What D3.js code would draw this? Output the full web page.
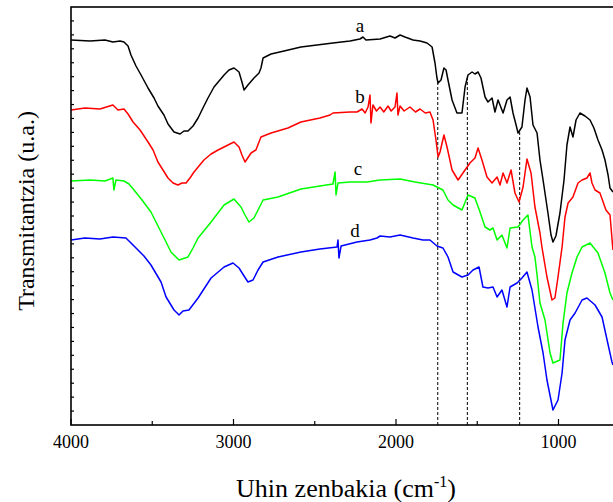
<!DOCTYPE html>
<html>
<head>
<meta charset="utf-8">
<script src="https://cdn.jsdelivr.net/npm/d3@7"></script>
<style>
  html, body { margin: 0; padding: 0; background: #fff; }
  svg { display: block; }
  text { font-family: "Liberation Serif", "Times New Roman", serif; fill: #000; }
</style>
</head>
<body>
<div id="chart"></div>
<script>
// FTIR spectra: [wavenumber (cm-1), transmittance (a.u.)]
const curveA = [
  [4000,385],[3883,384],[3791,385],[3742,383],[3698,384],[3674,383],[3649,379],[3631,370],
  [3600,359],[3569,350],[3526,337],[3489,327],[3465,319],[3428,310],[3403,301],[3366,293],
  [3329,291],[3305,294],[3280,294],[3249,299],[3218,307],[3182,319],[3157,327],[3120,338],
  [3058,350],[3028,355],[2997,357],[2966,353],[2948,343],[2935,335],[2911,340],[2874,347],
  [2843,352],[2831,357],[2818,367],[2769,371],[2689,374],[2585,378],[2388,382],[2283,384],
  [2222,386],[2203,388],[2185,385],[2098,386],[2037,389],[2006,387],[1975,390],[1945,388],
  [1895,385],[1852,384],[1809,382],[1778,378],[1760,362],[1748,347],[1741,342],[1723,345],
  [1705,357],[1692,355],[1680,345],[1655,325],[1625,312],[1594,312],[1575,338],[1557,350],
  [1532,353],[1514,351],[1495,353],[1477,347],[1452,328],[1434,323],[1409,327],[1391,313],
  [1372,325],[1360,320],[1341,312],[1317,325],[1298,328],[1280,312],[1261,300],[1249,292],
  [1225,298],[1206,325],[1194,337],[1175,328],[1157,300],[1132,292],[1114,265],[1095,245],
  [1065,212],[1046,190],[1034,183],[1016,189],[991,212],[966,245],[948,280],[929,298],
  [911,288],[892,305],[868,312],[837,309],[806,305],[782,297],[757,285],[732,275],
  [714,265],[695,250],[683,237],[665,233]
];
const curveB = [
  [4000,315],[3914,317],[3822,316],[3742,320],[3711,315],[3674,316],[3649,311],[3618,303],
  [3575,295],[3526,283],[3495,275],[3465,263],[3434,255],[3403,247],[3372,242],[3342,240],
  [3317,242],[3292,242],[3268,247],[3243,253],[3182,265],[3138,271],[3095,275],[3046,279],
  [2997,283],[2966,278],[2948,270],[2929,263],[2892,272],[2862,275],[2831,288],[2769,292],
  [2665,297],[2585,303],[2468,307],[2406,310],[2388,312],[2283,313],[2240,313],[2209,316],
  [2190,312],[2172,318],[2160,330],[2154,302],[2142,320],[2120,314],[2098,318],[2075,313],
  [2049,319],[2030,314],[2006,318],[1994,332],[1988,310],[1975,319],[1950,314],[1914,318],
  [1880,313],[1852,316],[1820,312],[1791,313],[1772,305],[1754,285],[1741,268],[1729,273],
  [1705,290],[1686,278],[1655,255],[1618,245],[1588,252],[1545,262],[1514,267],[1495,277],
  [1471,265],[1440,248],[1409,242],[1378,248],[1360,240],[1341,252],[1317,242],[1292,255],
  [1268,232],[1243,223],[1218,238],[1194,266],[1169,252],[1145,218],[1114,192],[1102,178],
  [1071,148],[1040,125],[1022,127],[1003,148],[978,178],[960,208],[941,222],[911,228],
  [880,242],[855,245],[825,247],[806,252],[794,242],[775,235],[745,232],[708,215],
  [683,210],[665,175]
];
const curveC = [
  [4000,244],[3883,245],[3791,244],[3742,247],[3736,235],[3723,245],[3674,244],[3643,241],
  [3612,235],[3563,225],[3508,213],[3477,203],[3446,193],[3415,183],[3385,173],[3335,165],
  [3280,168],[3249,177],[3218,187],[3138,203],[3058,220],[2997,226],[2954,218],[2929,210],
  [2905,203],[2874,207],[2849,215],[2818,225],[2726,228],[2585,236],[2468,239],[2388,241],
  [2375,253],[2369,230],[2357,242],[2283,243],[2178,243],[2098,245],[1975,246],[1883,243],
  [1772,240],[1711,235],[1680,225],[1649,220],[1594,215],[1557,230],[1514,227],[1483,213],
  [1452,198],[1422,195],[1403,197],[1378,185],[1348,190],[1317,177],[1298,197],[1249,198],
  [1218,205],[1188,210],[1163,178],[1145,168],[1132,150],[1114,122],[1083,105],[1052,72],
  [1034,62],[991,65],[972,102],[948,132],[917,152],[886,168],[855,178],[806,182],
  [757,172],[714,152],[683,132],[665,125]
];
const curveD = [
  [4000,185],[3914,187],[3822,186],[3742,188],[3662,187],[3637,183],[3600,177],[3551,169],
  [3508,160],[3446,143],[3415,128],[3366,115],[3335,110],[3311,114],[3274,115],[3218,127],
  [3138,147],[3058,158],[3003,162],[2966,157],[2935,149],[2911,143],[2880,145],[2849,155],
  [2818,163],[2726,168],[2585,173],[2468,176],[2363,178],[2357,185],[2351,167],[2338,179],
  [2240,183],[2160,185],[2117,187],[2098,189],[2037,188],[1975,190],[1895,187],[1834,185],
  [1791,185],[1748,179],[1711,177],[1680,168],[1649,153],[1594,148],[1557,150],[1526,155],
  [1489,158],[1465,138],[1434,137],[1403,138],[1378,128],[1348,135],[1317,118],[1298,138],
  [1255,142],[1225,147],[1194,153],[1163,135],[1145,117],[1126,98],[1095,72],[1071,45],
  [1034,15],[1003,25],[978,52],[960,85],[929,105],[898,112],[855,125],[825,127],
  [775,120],[732,108],[701,85],[671,63],[665,60]
];

const seriesNames = ["a", "b", "c", "d"];
const seriesColors = ["#000000", "#ff0000", "#00ff00", "#0000ff"];
const seriesData = [curveA, curveB, curveC, curveD];
// where each letter sits: [wavenumber, a.u.]
const labelPos = [[2222,393],[2222,322],[2234,250],[2252,188]];

// marked bands (dashed guides down from curve a)
const bandLines = [1743, 1561, 1239];

const xMajorTicks = [4000, 3000, 2000, 1000];
const xMinorTicks = [3500, 2500, 1500, 500];

const width = 613, height = 502;
const plotLeft = 71, plotTop = 7, plotBottom = 425;

const x = d3.scaleLinear().domain([4000, 400]).range([plotLeft, 656]);
const y = d3.scaleLinear().domain([0, 418]).range([plotBottom, plotTop]);

const svg = d3.select('#chart').append('svg')
  .attr('width', width)
  .attr('height', height);

// linear interpolation of a curve at a given wavenumber
const valueAt = (data, w) => {
  for (let i = 0; i < data.length - 1; i++) {
    const [w0, v0] = data[i], [w1, v1] = data[i + 1];
    if (w <= w0 && w >= w1) return v0 + (v1 - v0) * (w0 - w) / (w0 - w1);
  }
  return 0;
};

// dashed guides
svg.append('g').selectAll('line')
  .data(bandLines)
  .enter()
  .append('line')
  .attr('x1', d => x(d)).attr('x2', d => x(d))
  .attr('y1', y(0))
  .attr('y2', d => y(valueAt(curveA, d)))
  .attr('stroke', '#000')
  .attr('stroke-width', 1)
  .attr('stroke-dasharray', '3,2');

// spectra
const line = d3.line()
  .x(d => x(d[0]))
  .y(d => y(d[1]));

svg.append('g').selectAll('path')
  .data(seriesData)
  .enter()
  .append('path')
  .attr('d', line)
  .attr('fill', 'none')
  .attr('stroke', (d, i) => seriesColors[i])
  .attr('stroke-width', 1.5)
  .attr('stroke-linejoin', 'round');

// curve letters
svg.append('g').selectAll('text')
  .data(seriesNames)
  .enter()
  .append('text')
  .attr('x', (d, i) => x(labelPos[i][0]))
  .attr('y', (d, i) => y(labelPos[i][1]))
  .attr('text-anchor', 'middle')
  .style('font-size', '19px')
  .text(d => d);

// frame
svg.append('rect')
  .attr('x', x(4000)).attr('y', y(418))
  .attr('width', x(400) - x(4000))
  .attr('height', y(0) - y(418))
  .attr('fill', 'none')
  .attr('stroke', '#000')
  .attr('stroke-width', 1.6);

// ticks, pointing inward
const ticks = svg.append('g').attr('stroke', '#000').attr('stroke-width', 1.2);
ticks.selectAll('.xmaj')
  .data(xMajorTicks)
  .enter().append('line')
  .attr('x1', d => x(d)).attr('x2', d => x(d))
  .attr('y1', y(0)).attr('y2', y(0) - 6);
ticks.selectAll('.xmin')
  .data(xMinorTicks)
  .enter().append('line')
  .attr('x1', d => x(d)).attr('x2', d => x(d))
  .attr('y1', y(0)).attr('y2', y(0) - 4);
ticks.selectAll('.ymin')
  .data(d3.range(1, 30).map(i => i * 418 / 30))
  .enter().append('line')
  .attr('x1', x(4000)).attr('x2', x(4000) + 3)
  .attr('y1', d => y(d)).attr('y2', d => y(d));

// tick labels
svg.append('g').selectAll('text')
  .data(xMajorTicks)
  .enter()
  .append('text')
  .attr('x', d => x(d))
  .attr('y', y(0) + 23)
  .attr('text-anchor', 'middle')
  .style('font-size', '18px')
  .text(d => d);

// axis titles
const xt = svg.append('text')
  .attr('x', 346)
  .attr('y', 497)
  .attr('text-anchor', 'middle')
  .style('font-size', '26px');
xt.append('tspan').text('Uhin zenbakia (cm');
xt.append('tspan').attr('dy', -10).style('font-size', '16px').text('-1');
xt.append('tspan').attr('dy', 10).text(')');

svg.append('text')
  .attr('transform', 'translate(34,211) rotate(-90)')
  .attr('text-anchor', 'middle')
  .style('font-size', '24px')
  .text('Transmitantzia (u.a.)');
</script>
</body>
</html>
